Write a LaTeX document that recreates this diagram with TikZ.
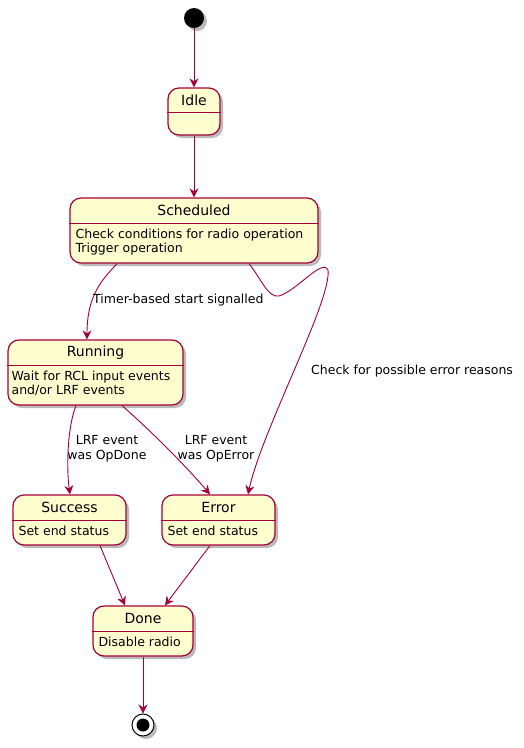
\documentclass[tikz,border=0pt]{standalone}
\usepackage{fontspec}
\setmainfont{DejaVu Sans}
\usetikzlibrary{arrows.meta,shadows,calc}
\definecolor{pumlfill}{HTML}{FEFECE}
\definecolor{pumlred}{HTML}{A80036}
\tikzset{
  statebox/.style={draw=pumlred, line width=1.2pt, fill=pumlfill, rounded corners=11pt,
    drop shadow={shadow xshift=3pt, shadow yshift=-3pt, fill=black!45, opacity=0.6},
    inner sep=0pt},
  sep/.style={draw=pumlred, line width=1.2pt},
  ttl/.style={font=\fontsize{14}{16}\selectfont, inner sep=0pt},
  bdy/.style={font=\fontsize{12.5}{14}\selectfont, align=left, inner sep=0pt, anchor=north west},
  lbl/.style={font=\fontsize{12.5}{15}\selectfont, align=center, inner sep=0pt},
  edge/.style={draw=pumlred, line width=0.9pt, -{Stealth[length=9pt,width=9pt,inset=3pt]}},
}
\begin{document}
\begin{tikzpicture}[x=1pt,y=-1pt]
\useasboundingbox (0,0) rectangle (523,748);
% start
\node[circle, fill=black, minimum size=20pt, inner sep=0pt,
  drop shadow={shadow xshift=3pt, shadow yshift=-3pt, fill=black!45, opacity=0.6}] (start) at (194,18) {};
% Idle
\node[statebox, minimum width=52pt, minimum height=47pt] (idle) at (194,111.5) {};
\draw[sep] ($(idle.north west)+(0,25)$) -- ($(idle.north east)+(0,25)$);
\node[ttl] (idleT) at ($(idle.north)+(0,13)$) {Idle};
% Scheduled
\node[statebox, minimum width=248pt, minimum height=65pt] (sch) at (194,230.5) {};
\draw[sep] ($(sch.north west)+(0,26)$) -- ($(sch.north east)+(0,26)$);
\node[ttl] (schT) at ($(sch.north)+(0,13)$) {Scheduled};
\node[bdy] (schB) at ($(sch.north west)+(6,31)$) {Check conditions for radio operation\\Trigger operation};
% Running
\node[statebox, minimum width=175pt, minimum height=65pt] (run) at (95.5,372.5) {};
\draw[sep] ($(run.north west)+(0,26)$) -- ($(run.north east)+(0,26)$);
\node[ttl] (runT) at ($(run.north)+(0,13)$) {Running};
\node[bdy] (runB) at ($(run.north west)+(4,31)$) {Wait for RCL input events\\and/or LRF events};
% Success
\node[statebox, minimum width=113pt, minimum height=50pt] (suc) at (69.5,520) {};
\draw[sep] ($(suc.north west)+(0,26)$) -- ($(suc.north east)+(0,26)$);
\node[ttl] (sucT) at ($(suc.north)+(0,13)$) {Success};
\node[bdy] (sucB) at ($(suc.north west)+(6,31)$) {Set end status};
% Error
\node[statebox, minimum width=113pt, minimum height=50pt] (err) at (218.5,520) {};
\draw[sep] ($(err.north west)+(0,26)$) -- ($(err.north east)+(0,26)$);
\node[ttl] (errT) at ($(err.north)+(0,13)$) {Error};
\node[bdy] (errB) at ($(err.north west)+(6,31)$) {Set end status};
% Done
\node[statebox, minimum width=100pt, minimum height=50pt] (done) at (143,631) {};
\draw[sep] ($(done.north west)+(0,26)$) -- ($(done.north east)+(0,26)$);
\node[ttl] (doneT) at ($(done.north)+(0,13)$) {Done};
\node[bdy] (doneB) at ($(done.north west)+(6,31)$) {Disable radio};
% end
\node[circle, draw=black, line width=1pt, fill=white, minimum size=22pt, inner sep=0pt,
  drop shadow={shadow xshift=3pt, shadow yshift=-3pt, fill=black!45, opacity=0.6}] (end) at (143,725) {};
\node[circle, fill=black, minimum size=13pt, inner sep=0pt] (endin) at (end.center) {};

% edges
\draw[edge] (start) -- (idle);
\draw[edge] (idle) -- (sch);
\draw[edge] (sch.south west -| 117,0) .. controls (102,280) and (87,295) .. (run.north -| 87,0);
\node[lbl, anchor=west] (l1) at (93,300) {Timer-based start signalled};
\draw[edge] (sch.south east -| 249,0) .. controls (262,280) and (268,298) .. (279,296)
  .. controls (298,290) and (322,258) .. (328,270)
  .. controls (332,300) and (262,430) .. (err.north -| 248,0);
\node[lbl, anchor=west] (l2) at (311,371) {Check for possible error reasons};
\draw[edge] (run.south -| 76,0) .. controls (68,425) and (66,465) .. (suc.north -| 70,0);
\node[lbl] (l3) at (107,449) {LRF event\\was OpDone};
\draw[edge] (run.south -| 122,0) .. controls (150,430) and (185,465) .. (err.north -| 210,0);
\node[lbl] (l4) at (216,449) {LRF event\\was OpError};
\draw[edge] (suc.south -| 100,0) -- (done.north -| 125,0);
\draw[edge] (err.south -| 210,0) -- (done.north -| 165,0);
\draw[edge] (done.south) -- (end.north);
\end{tikzpicture}
\end{document}
